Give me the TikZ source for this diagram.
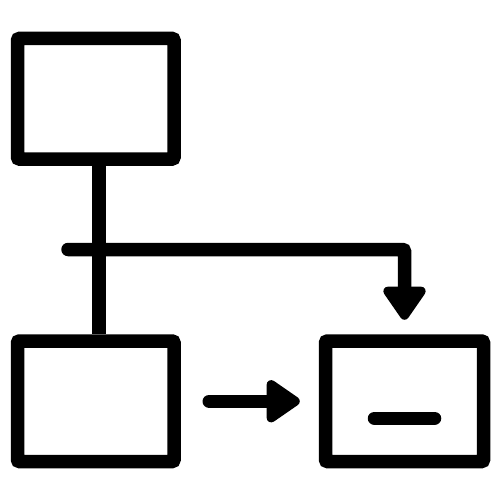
\documentclass[tikz,border=0pt]{standalone}
\usetikzlibrary{arrows.meta,calc,positioning}
\tikzstyle{block} = [rectangle, draw=black, line width=13.5pt, minimum width=156.5pt, minimum height=120.5pt, rounded corners=2pt]
\tikzstyle{link} = [line width=13.5pt, line cap=round]
\tikzstyle{arrow} = [link, -{Triangle[length=37pt,width=48pt,round]}]
\begin{document}
\begin{tikzpicture}[x=1pt,y=-1pt]
\useasboundingbox (0,0) rectangle (500,500);
\node (top) [block] at (95.75,98.75) {};
\node (left) [block] at (95.75,401.25) {};
\node (right) [block, minimum width=158pt] at (404.5,401.25) {};
\coordinate (split) at (68,249.5);

\draw [link, line cap=butt] ([xshift=3pt]top.south) -- ([xshift=3pt]left.north);
\draw [arrow, rounded corners=2pt, shorten >=14.5pt] (split) -| (right.north);
\draw [arrow, shorten <=28.5pt, shorten >=19pt] (left.east) -- (right.west);
%\draw [link] (right.center) circle (2pt);
\draw [link] ($(right.center)+(-30,17)$) -- ($(right.center)+(30,17)$);
\end{tikzpicture}
\end{document}
